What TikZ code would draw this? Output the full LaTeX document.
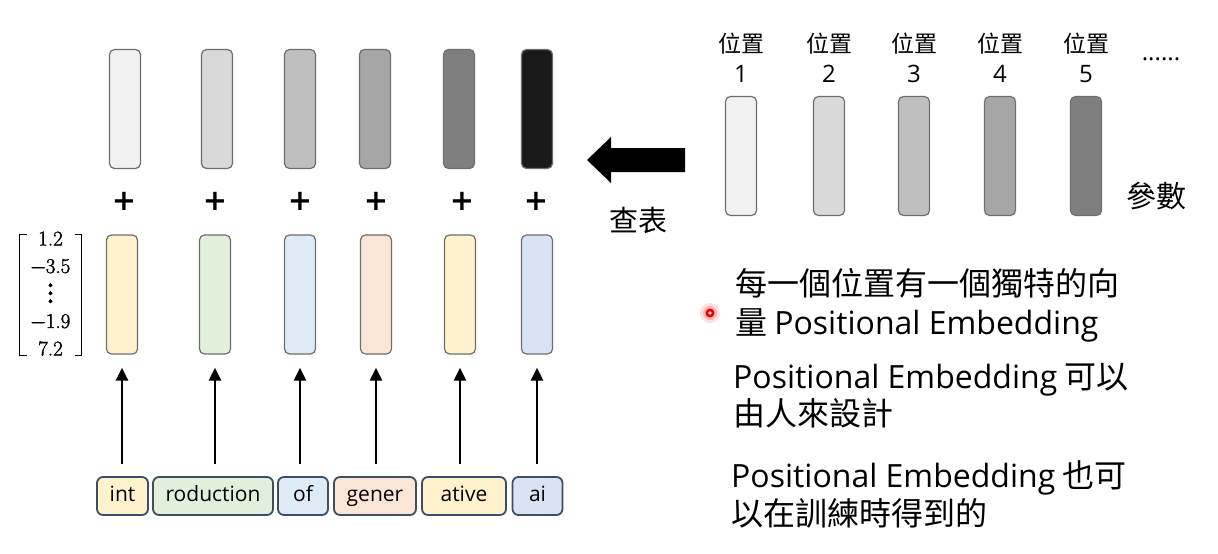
\documentclass[tikz,border=0pt]{standalone}
\usepackage{fontspec}
\setmainfont{Open Sans}
\newfontfamily\cjk{Noto Sans CJK TC}
\newfontfamily\lat{Open Sans}
\newfontfamily\plusfont{DejaVu Sans}
\newfontfamily\numfont[FakeBold=1.6]{Latin Modern Roman}
\usetikzlibrary{arrows.meta,calc}

\definecolor{g1}{HTML}{F2F2F2}
\definecolor{g2}{HTML}{D9D9D9}
\definecolor{g3}{HTML}{BFBFBF}
\definecolor{g4}{HTML}{A6A6A6}
\definecolor{g5}{HTML}{7F7F7F}
\definecolor{g6}{HTML}{1A1A1A}
\definecolor{cyel}{HTML}{FFF2CC}
\definecolor{cgrn}{HTML}{E2EFDA}
\definecolor{cblu}{HTML}{DEEBF7}
\definecolor{corg}{HTML}{FBE5D6}
\definecolor{cbl2}{HTML}{DAE3F3}
\definecolor{barline}{HTML}{6E6E6E}
\definecolor{tokline}{HTML}{3C4F66}

\tikzset{
  vecbar/.style={draw=barline, line width=1.2pt, rounded corners=5pt,
    minimum width=31pt, minimum height=119pt, inner sep=0pt},
  token/.style={draw=tokline, line width=1.8pt, rounded corners=6pt,
    minimum height=38pt, inner sep=0pt, text height=15pt, text depth=4pt,
    font=\lat\fontsize{21}{24}\selectfont},
  plus/.style={font=\plusfont\bfseries\fontsize{29}{30}\selectfont, inner sep=0pt},
  uparrow/.style={line width=2.6pt, -{Triangle[width=12pt,length=13pt]},
    shorten <=12pt, shorten >=13pt},
  note/.style={anchor=base west, inner sep=0pt, font=\cjk\fontsize{32}{36}\selectfont},
  poslabel/.style={font=\cjk\fontsize{23}{26}\selectfont, inner sep=0pt},
  posnum/.style={font=\lat\fontsize{24}{28}\selectfont, inner sep=0pt},
  bracket/.style={line width=1.4pt},
}

\begin{document}
\begin{tikzpicture}[x=1pt,y=-1pt]
\useasboundingbox[fill=white] (0,0) rectangle (1218,554);

% positional vectors added to the tokens
\foreach \i/\x/\c in {1/125/g1,2/217/g2,3/300/g3,4/375/g4,5/459/g5,6/537/g6}{
  \node[vecbar, fill=\c] (p\i) at (\x,109) {};
}
\foreach \i/\x in {1/124,2/215,3/300,4/376,5/462,6/536}{
  \node[plus] (plus\i) at (\x,201.5) {+};
}

% token embeddings
\node[vecbar, fill=cyel] (e1) at (122,294.5) {};
\node[vecbar, fill=cgrn] (e2) at (215,294.5) {};
\node[vecbar, fill=cblu] (e3) at (300,294.5) {};
\node[vecbar, fill=corg] (e4) at (376,294.5) {};
\node[vecbar, fill=cyel] (e5) at (460,294.5) {};
\node[vecbar, fill=cbl2] (e6) at (537,294.5) {};

% example vector with its brackets
\node[inner sep=0pt, font=\numfont\fontsize{21}{27.5}\selectfont] (vec) at (50.5,295)
  {\begin{tabular}{@{}c@{}}1.2\\−3.5\\\smash{\raisebox{-2.5pt}{\scalebox{2}{$\vdots$}}}\\−1.9\\7.2\end{tabular}};
\draw[bracket] ($(vec.center)+(-24,-60.5)$) -- ++(-7,0) -- ++(0,121) -- ++(7,0);
\draw[bracket] ($(vec.center)+(24,-60.5)$) -- ++(7,0) -- ++(0,121) -- ++(-7,0);

% tokens
\node[token, fill=cyel, minimum width=51pt]  (t1) at (122.5,496) {int};
\node[token, fill=cgrn, minimum width=120pt] (t2) at (213,496) {roduction};
\node[token, fill=cblu, minimum width=50pt]  (t3) at (303,496) {of};
\node[token, fill=corg, minimum width=82pt]  (t4) at (375,496) {gener};
\node[token, fill=cyel, minimum width=84pt]  (t5) at (464,496) {ative};
\node[token, fill=cbl2, minimum width=50pt]  (t6) at (537.5,496) {ai};

\foreach \i in {1,...,6}{
  \draw[uparrow] (t\i.north -| e\i.south) -- (e\i.south);
}

% lookup arrow
\fill (685,148) -- (611,148) -- (611,137) -- (587,160) -- (611,183)
  -- (611,172) -- (685,172) -- cycle;
\node[font=\cjk\fontsize{29}{32}\selectfont, inner sep=0pt] (lookup) at (638,220) {查表};

% position table
\foreach \i/\x/\c in {1/741/g1,2/829/g2,3/914/g3,4/1000/g4,5/1086/g5}{
  \node[vecbar, fill=\c] (q\i) at (\x,156) {};
  \node[poslabel] (ql\i) at (\x,44) {位置};
  \node[posnum] (qn\i) at (\x,74) {\i};
}
\node[font=\lat\fontsize{24}{26}\selectfont, inner sep=0pt, anchor=base] (more) at (1161,60) {......};
\node[font=\cjk\fontsize{30}{32}\selectfont, inner sep=0pt] (params) at (1156,196) {參數};

% notes
\node[note] (n1a) at (735,295) {每一個位置有一個獨特的向};
\node[note] (n1b) at (735,334) {量 {\lat Positional Embedding}};
\node[note] (n2a) at (733,388) {{\lat Positional Embedding} 可以};
\node[note] (n2b) at (733,425) {由人來設計};
\node[note] (n3a) at (731,487) {{\lat Positional Embedding} 也可};
\node[note] (n3b) at (731,525) {以在訓練時得到的};

% pointer dot
\fill[red, opacity=0.12] (710,313) circle (10pt);
\fill[red, opacity=0.2] (710,313) circle (7pt);
\fill[red!90!black] (710,313) circle (4.5pt);
\fill[white, opacity=0.85] (710,313) circle (1.8pt);
\end{tikzpicture}
\end{document}
